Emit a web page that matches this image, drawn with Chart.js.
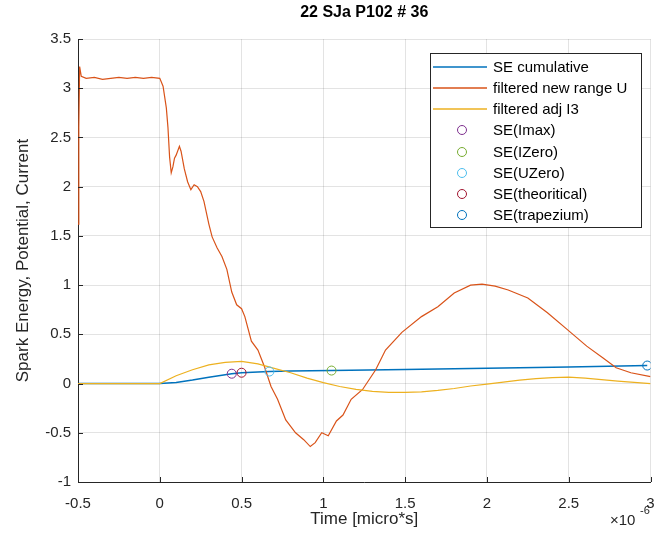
<!DOCTYPE html>
<html>
<head>
<meta charset="utf-8">
<script src="https://cdn.jsdelivr.net/npm/chart.js@4.4.1/dist/chart.umd.min.js"></script>
<style>
  html, body { margin: 0; padding: 0; background: #fff; overflow: hidden; }
  #chart { display: block; }
</style>
</head>
<body>
<canvas id="chart" width="656" height="540"></canvas>
<script>
// ---- data (time in micro-seconds, i.e. x 10^-6 s) ----
const xTickLabels = ['-0.5', '0', '0.5', '1', '1.5', '2', '2.5', '3'];
const yTickLabels = ['-1', '-0.5', '0', '0.5', '1', '1.5', '2', '2.5', '3', '3.5'];

// SE cumulative
const timeSE = [-0.5, 0, 0.1, 0.2, 0.3, 0.4, 0.44, 0.5, 0.6, 0.67, 0.8, 1.05, 1.5, 2.0, 2.5, 2.98];
const seCumulative = [0, 0, 0.01, 0.035, 0.065, 0.09, 0.1, 0.11, 0.118, 0.122, 0.127, 0.132, 0.142, 0.155, 0.168, 0.183];

// filtered new range U
const timeU = [-0.5, -0.495, -0.49, -0.48, -0.45, -0.4, -0.35, -0.3, -0.25, -0.2, -0.15, -0.1, -0.05, 0,
  0.02, 0.04, 0.05, 0.06, 0.07, 0.08, 0.09, 0.1, 0.12, 0.13, 0.15, 0.17, 0.19, 0.21, 0.23, 0.25, 0.27,
  0.3, 0.32, 0.35, 0.38, 0.41, 0.44, 0.47, 0.5, 0.52, 0.56, 0.6, 0.64, 0.68, 0.72, 0.77, 0.83, 0.88,
  0.92, 0.95, 0.99, 1.03, 1.08, 1.12, 1.17, 1.24, 1.32, 1.38, 1.48, 1.6, 1.7, 1.8, 1.9, 1.97, 2.05,
  2.13, 2.25, 2.37, 2.49, 2.61, 2.71, 2.79, 2.88, 3.0];
const filteredU = [1.62, 2.6, 3.22, 3.12, 3.1, 3.11, 3.09, 3.1, 3.11, 3.1, 3.11, 3.1, 3.11, 3.1,
  3.02, 2.8, 2.6, 2.3, 2.14, 2.2, 2.29, 2.32, 2.41, 2.36, 2.18, 2.05, 1.97, 2.02, 2.0, 1.95, 1.85,
  1.62, 1.49, 1.38, 1.29, 1.16, 0.93, 0.8, 0.76, 0.68, 0.43, 0.34, 0.17, -0.03, -0.16, -0.37, -0.5, -0.57,
  -0.64, -0.6, -0.5, -0.53, -0.38, -0.32, -0.16, -0.06, 0.14, 0.34, 0.52, 0.68, 0.78, 0.92, 1.0, 1.01, 0.99,
  0.95, 0.87, 0.72, 0.55, 0.38, 0.26, 0.16, 0.11, 0.07];

// filtered adj I3
const timeI = [-0.5, 0, 0.1, 0.2, 0.3, 0.4, 0.5, 0.6, 0.7, 0.8, 0.9, 1.0, 1.1, 1.2, 1.3, 1.4, 1.5,
  1.6, 1.7, 1.8, 1.9, 2.0, 2.1, 2.2, 2.3, 2.4, 2.5, 2.6, 2.7, 2.8, 2.9, 3.0];
const filteredI3 = [0, 0, 0.08, 0.14, 0.19, 0.215, 0.225, 0.2, 0.155, 0.11, 0.055, 0.01, -0.03, -0.06, -0.08, -0.09, -0.09,
  -0.085, -0.07, -0.05, -0.025, -0.005, 0.015, 0.035, 0.05, 0.06, 0.065, 0.055, 0.04, 0.025, 0.012, 0.0];

// energy markers
const markerNames = ['SE(Imax)', 'SE(IZero)', 'SE(UZero)', 'SE(theoritical)', 'SE(trapezium)'];
const markerTimes = [0.44, 1.05, 0.67, 0.5, 2.98];
const markerValues = [0.1, 0.132, 0.122, 0.11, 0.183];
const markerColors = ['#7E2F8E', '#77AC30', '#4DBEEE', '#A2142F', '#0072BD'];

const lineNames = ['SE cumulative', 'filtered new range U', 'filtered adj I3'];
const lineColors = ['#0072BD', '#D95319', '#EDB120'];

const FONT = '"Liberation Sans", Arial, Helvetica, sans-serif';
const AXIS_COLOR = '#262626';

function toPoints(xs, ys) {
  return xs.map(function(x, i) { return { x: x, y: ys[i] }; });
}

const datasets = [
  { label: lineNames[0], data: toPoints(timeSE, seCumulative), showLine: true, borderColor: lineColors[0], borderWidth: 1.5, pointRadius: 0, order: 10 },
  { label: lineNames[1], data: toPoints(timeU, filteredU), showLine: true, borderColor: lineColors[1], borderWidth: 1.2, pointRadius: 0, order: 9 },
  { label: lineNames[2], data: toPoints(timeI, filteredI3), showLine: true, borderColor: lineColors[2], borderWidth: 1.2, pointRadius: 0, order: 8 }
];
markerNames.forEach(function(name, i) {
  datasets.push({
    label: name,
    data: [{ x: markerTimes[i], y: markerValues[i] }],
    showLine: false,
    pointStyle: 'circle',
    pointRadius: 4.5,
    pointBorderWidth: 1,
    borderColor: markerColors[i],
    backgroundColor: 'rgba(0,0,0,0)',
    order: 5 - i
  });
});

// title, inward ticks, exponent label and boxed legend
const decorPlugin = {
  id: 'decor',
  afterDraw: function(chart) {
    const c = chart.ctx;
    const area = chart.chartArea;
    const xs = chart.scales.x;
    const ys = chart.scales.y;

    c.save();
    // inward tick marks
    c.strokeStyle = AXIS_COLOR;
    c.lineWidth = 1;
    c.beginPath();
    xs.ticks.forEach(function(t) {
      const px = Math.round(xs.getPixelForValue(t.value)) + 0.5;
      c.moveTo(px, area.bottom);
      c.lineTo(px, area.bottom - 5);
    });
    ys.ticks.forEach(function(t) {
      const py = Math.round(ys.getPixelForValue(t.value)) + 0.5;
      c.moveTo(area.left, py);
      c.lineTo(area.left + 5, py);
    });
    c.stroke();

    // title
    c.fillStyle = '#000';
    c.font = 'bold 16px ' + FONT;
    c.textAlign = 'center';
    c.textBaseline = 'middle';
    c.fillText('22 SJa P102 # 36', (area.left + area.right) / 2, 13);

    // x10^-6
    c.fillStyle = AXIS_COLOR;
    c.font = '15px ' + FONT;
    c.textAlign = 'left';
    c.fillText('\u00d710', 610, 521);
    c.font = '11px ' + FONT;
    c.fillText('-6', 640, 511);

    // legend box
    const bx = 430.5, by = 53.5, bw = 211, bh = 174;
    c.fillStyle = '#fff';
    c.fillRect(bx, by, bw, bh);
    c.strokeStyle = '#262626';
    c.lineWidth = 1;
    c.strokeRect(bx, by, bw, bh);

    const rowY = [67, 88, 109, 130, 152, 173, 194, 215];
    c.font = '15px ' + FONT;
    c.textBaseline = 'middle';
    lineNames.forEach(function(name, i) {
      c.strokeStyle = lineColors[i];
      c.lineWidth = 1.3;
      c.beginPath();
      c.moveTo(433, rowY[i]);
      c.lineTo(487, rowY[i]);
      c.stroke();
      c.fillStyle = '#000';
      c.fillText(name, 493, rowY[i] + 1);
    });
    markerNames.forEach(function(name, i) {
      const y = rowY[i + 3];
      c.strokeStyle = markerColors[i];
      c.lineWidth = 1;
      c.beginPath();
      c.arc(462, y, 4.5, 0, Math.PI * 2);
      c.stroke();
      c.fillStyle = '#000';
      c.fillText(name, 493, y + 1);
    });
    c.restore();
  }
};

const ctx = document.getElementById('chart').getContext('2d');
new Chart(ctx, {
  type: 'scatter',
  data: { datasets: datasets },
  plugins: [decorPlugin],
  options: {
    responsive: false,
    animation: false,
    events: [],
    layout: { padding: { top: 39, right: 0, left: 0, bottom: 0 } },
    plugins: {
      legend: { display: false },
      tooltip: { enabled: false },
      title: { display: false }
    },
    scales: {
      x: {
        type: 'linear',
        min: -0.5,
        max: 3,
        afterFit: function(s) { s.height = 58; s.paddingRight = 3; s.paddingLeft = 0; },
        afterBuildTicks: function(s) {
          s.ticks = xTickLabels.map(function(l) { return { value: parseFloat(l) }; });
        },
        ticks: {
          color: AXIS_COLOR,
          font: { family: FONT, size: 15 },
          padding: 13,
          maxRotation: 0,
          callback: function(v) { return xTickLabels[xTickLabels.indexOf(String(v))] || String(v); }
        },
        grid: { color: 'rgba(0,0,0,0.11)', drawTicks: false },
        border: { color: AXIS_COLOR, width: 1 },
        title: {
          display: true,
          text: 'Time [micro*s]',
          color: AXIS_COLOR,
          font: { family: FONT, size: 17 },
          padding: { top: 0, bottom: 10 }
        }
      },
      y: {
        type: 'linear',
        min: -1,
        max: 3.5,
        afterFit: function(s) { s.width = 78; s.paddingTop = 0; s.paddingBottom = 0; },
        afterBuildTicks: function(s) {
          s.ticks = yTickLabels.map(function(l) { return { value: parseFloat(l) }; });
        },
        ticks: {
          color: AXIS_COLOR,
          font: { family: FONT, size: 15 },
          padding: 7,
          callback: function(v) { return yTickLabels[yTickLabels.indexOf(String(v))] || String(v); }
        },
        grid: { color: 'rgba(0,0,0,0.11)', drawTicks: false },
        border: { color: AXIS_COLOR, width: 1 },
        title: {
          display: true,
          text: 'Spark Energy, Potential, Current',
          color: AXIS_COLOR,
          font: { family: FONT, size: 17 },
          padding: { top: 13, bottom: 0 }
        }
      }
    }
  }
});
</script>
</body>
</html>
